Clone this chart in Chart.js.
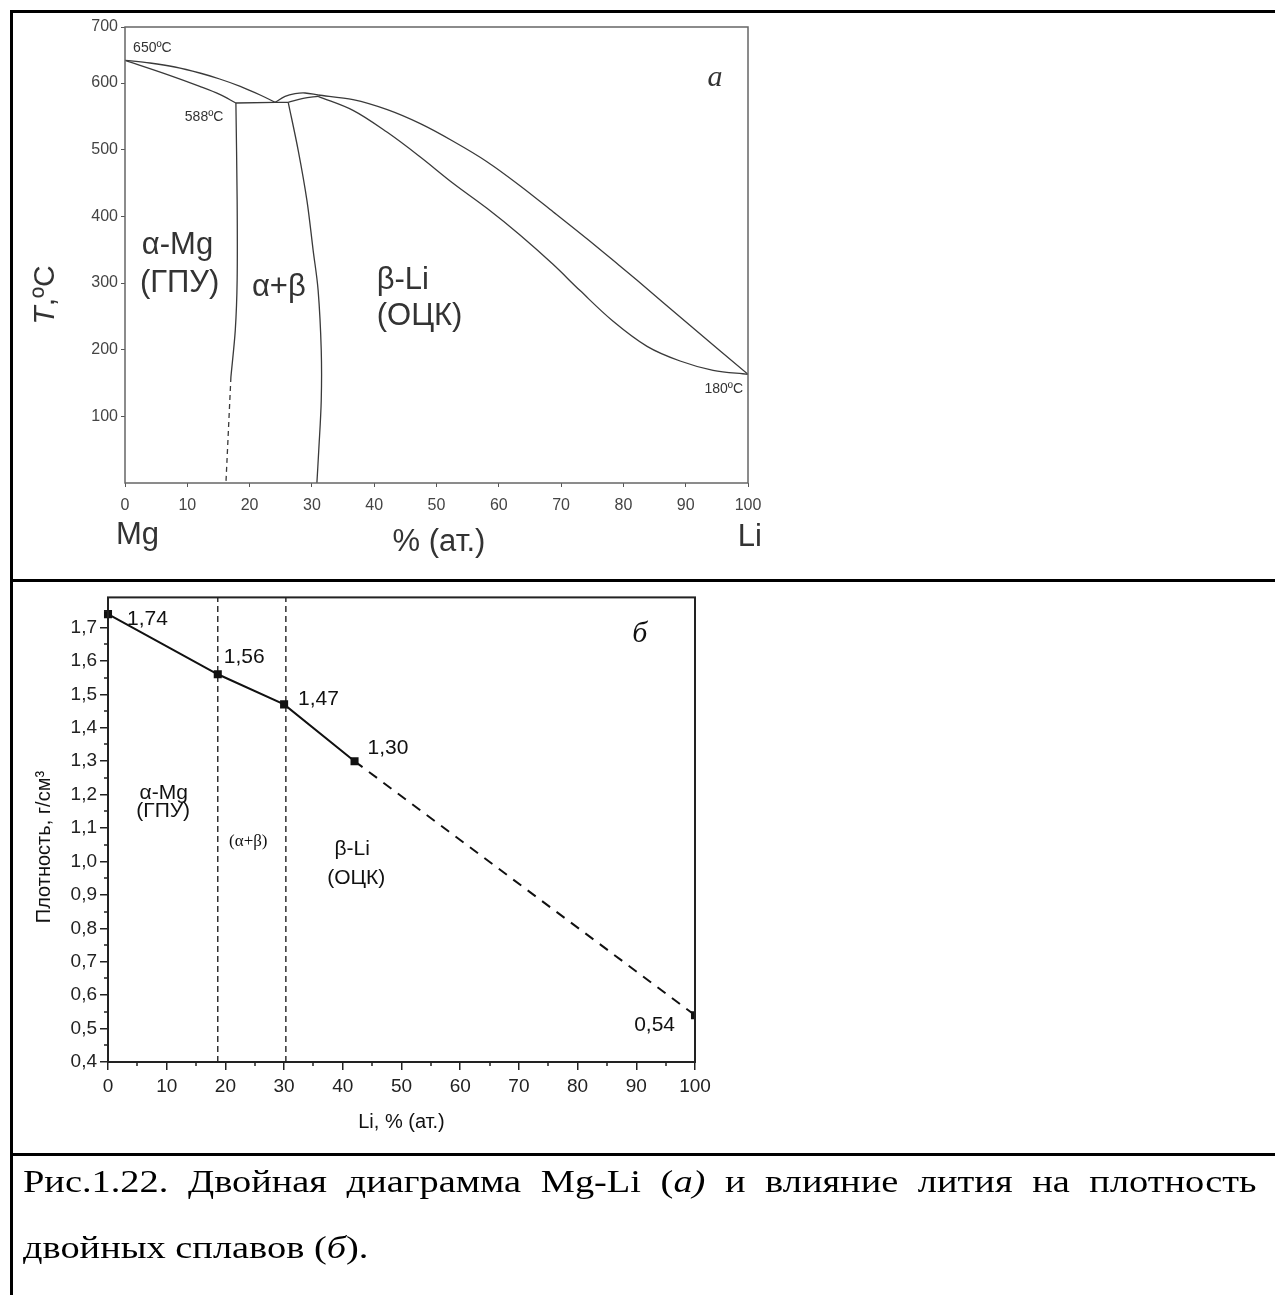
<!DOCTYPE html>
<html>
<head>
<meta charset="utf-8">
<script src="https://cdn.jsdelivr.net/npm/chart.js@4.4.1/dist/chart.umd.min.js"></script>
<style>
  body { margin: 0; background: #fff; width: 1275px; height: 1295px; position: relative; overflow: hidden; }
  .rule { position: absolute; background: #000; }
  #boxA { position: absolute; left: 12px; top: 14px; }
  #boxB { position: absolute; left: 12px; top: 583px; }
  .caption { position: absolute; left: 23px; top: 1148px; width: 1028px; color: #000;
    font: 32px "Liberation Serif", "Times New Roman", serif; line-height: 66px;
    transform: scaleX(1.2); transform-origin: 0 0; }
  .caption .l1 { text-align: justify; text-align-last: justify; }
</style>
</head>
<body>
<div class="rule" style="left:10px;top:10px;width:1265px;height:3px"></div>
<div class="rule" style="left:10px;top:10px;width:3px;height:1285px"></div>
<div class="rule" style="left:10px;top:579px;width:1265px;height:3px"></div>
<div class="rule" style="left:10px;top:1153px;width:1265px;height:3px"></div>

<div id="boxA"><canvas id="chartA" width="800" height="562"></canvas></div>
<div id="boxB"><canvas id="chartB" width="800" height="568"></canvas></div>

<div class="caption">
  <div class="l1">Рис.1.22. Двойная диаграмма Mg-Li (<i>а)</i> и влияние лития на плотность</div>
  <div>двойных сплавов (<i>б</i>).</div>
</div>

<script>
// (a) Mg-Li phase diagram, x = at.% Li, T in the drawn axis units
const liTicksA = [0, 10, 20, 30, 40, 50, 60, 70, 80, 90, 100];
const tempTicks = [100, 200, 300, 400, 500, 600, 684];
const tempTickLabels = ["100", "200", "300", "400", "500", "600", "700"];

const liqMgX = [0, 4.0, 8.0, 12.0, 15.2, 18.5, 21.7, 24.1];
const liqMgT = [634, 630, 624, 615, 606, 595, 582, 571];
const solMgX = [0, 6.7, 12.0, 15.2, 17.8];
const solMgT = [634, 613, 595, 583, 570];
const eutX = [17.8, 24.1, 26.2];
const eutT = [570, 571, 571];
const solvAX = [17.8, 18.0, 18.0, 17.7, 17.0];
const solvAT = [570, 424, 304, 229, 159];
const solvADashX = [17.0, 16.2];
const solvADashT = [159, 0];
const solvBX = [26.2, 27.8, 29.2, 30.2, 31.0, 31.5, 31.5, 31.1, 30.8];
const solvBT = [571, 499, 424, 349, 289, 199, 124, 49, 0];
const lensUpX = [24.1, 25.7, 27.3, 28.9, 31.0];
const lensUpT = [571, 580, 584, 585, 582];
const lensLowX = [26.2, 28.6, 31.0];
const lensLowT = [571, 577, 580];
const liqLiX = [31.0, 36.6, 42.1, 47.4, 52.6, 58.1, 63.4, 68.7, 74.2, 79.5, 82.2, 91.0, 100];
const liqLiT = [582, 575, 560, 539, 513, 482, 446, 407, 366, 325, 304, 234, 163];
const solLiX = [31.0, 36.6, 42.1, 47.4, 52.6, 58.1, 63.4, 68.7, 73.0, 78.3, 83.8, 89.1, 94.4, 100];
const solLiT = [580, 559, 526, 489, 450, 412, 372, 328, 289, 243, 205, 183, 169, 163];

// (б) density vs Li content
const liTicksB = [0, 10, 20, 30, 40, 50, 60, 70, 80, 90, 100];
const liMinorB = [5, 15, 25, 35, 45, 55, 65, 75, 85, 95];
const densityTicks = [0.4, 0.5, 0.6, 0.7, 0.8, 0.9, 1.0, 1.1, 1.2, 1.3, 1.4, 1.5, 1.6, 1.7];
const densityMinor = [0.45, 0.55, 0.65, 0.75, 0.85, 0.95, 1.05, 1.15, 1.25, 1.35, 1.45, 1.55, 1.65, 1.75];
const densityMin = 0.4;
const densityMax = 1.79;
const liAt = [0, 18.7, 30, 42, 100];
const density = [1.74, 1.56, 1.47, 1.30, 0.54];
const phaseBounds = [18.7, 30.3];

const SANS = '"Liberation Sans", Arial, sans-serif';
const SERIF = '"Liberation Serif", "Times New Roman", serif';

function pts(xs, ys) {
  return xs.map((x, i) => ({ x: x, y: ys[i] }));
}

function curve(xs, ts, tension, dash) {
  return {
    data: pts(xs, ts),
    borderColor: "#3a3a3a",
    borderWidth: 1.3,
    pointRadius: 0,
    tension: tension,
    borderDash: dash || [],
  };
}

function drawRuns(ctx, runs, x, y, size, align, rotate, color) {
  ctx.save();
  ctx.translate(x, y);
  if (rotate) ctx.rotate(rotate);
  ctx.fillStyle = color;
  ctx.textBaseline = "middle";
  ctx.textAlign = "left";
  const fonts = runs.map(r => (r.italic ? "italic " : "") + size + "px " + (r.serif ? SERIF : SANS));
  let total = 0;
  const widths = runs.map((r, i) => {
    ctx.font = fonts[i];
    const w = ctx.measureText(r.text).width;
    total += w;
    return w;
  });
  let cx = align === "left" ? 0 : align === "right" ? -total : -total / 2;
  runs.forEach((r, i) => {
    ctx.font = fonts[i];
    ctx.fillText(r.text, cx, 0);
    cx += widths[i];
  });
  ctx.restore();
}

// text placed in data units, or relative to the plot area edges
function notesPlugin(items, color) {
  return {
    id: "notes",
    afterDraw(chart) {
      const { ctx, chartArea, scales } = chart;
      items.forEach(n => {
        const px = n.leftOf !== undefined ? chartArea.left - n.leftOf : scales.x.getPixelForValue(n.x);
        const py = n.below !== undefined ? chartArea.bottom + n.below : scales.y.getPixelForValue(n.y);
        const runs = n.runs || [{ text: n.text, italic: n.italic, serif: n.serif }];
        drawRuns(ctx, runs, px, py, n.size, n.align || "center", n.rotate ? -Math.PI / 2 : 0, color);
      });
    },
  };
}

function framePlugin(color, width) {
  return {
    id: "frame",
    afterDatasetsDraw(chart) {
      const { ctx, chartArea: a } = chart;
      ctx.save();
      ctx.strokeStyle = color;
      ctx.lineWidth = width;
      ctx.strokeRect(a.left, a.top, a.right - a.left, a.bottom - a.top);
      ctx.restore();
    },
  };
}

const minorTicksPlugin = {
  id: "minorTicks",
  afterDraw(chart) {
    const { ctx, chartArea: a, scales } = chart;
    ctx.save();
    ctx.strokeStyle = "#222";
    ctx.lineWidth = 1.5;
    ctx.beginPath();
    liMinorB.forEach(v => {
      const px = Math.round(scales.x.getPixelForValue(v));
      ctx.moveTo(px, a.bottom);
      ctx.lineTo(px, a.bottom + 4);
    });
    densityMinor.forEach(v => {
      const py = Math.round(scales.y.getPixelForValue(v));
      ctx.moveTo(a.left, py);
      ctx.lineTo(a.left - 4, py);
    });
    ctx.stroke();
    ctx.restore();
  },
};

// value labels next to the density points
const valueLabelOffsets = [[19, 5, "left"], [6, -17, "left"], [14, -5, "left"], [13, -13, "left"], [-20, 10, "right"]];
const valueLabelsPlugin = {
  id: "valueLabels",
  afterDraw(chart) {
    const { ctx } = chart;
    const meta = chart.getDatasetMeta(0);
    meta.data.forEach((p, i) => {
      const o = valueLabelOffsets[i];
      const txt = density[i].toFixed(2).replace(".", ",");
      drawRuns(ctx, [{ text: txt }], p.x + o[0], p.y + o[1], 21, o[2], 0, "#111");
    });
  },
};

// ---------- chart (a) ----------
const notesA = [
  { text: "650ºC", x: 1.3, y: 652, size: 14, align: "left" },
  { text: "588ºC", x: 9.6, y: 549, size: 14, align: "left" },
  { text: "180ºC", x: 99.2, y: 141, size: 14, align: "right" },
  { text: "α-Mg", x: 2.7, y: 357, size: 31, align: "left" },
  { text: "(ГПУ)", x: 2.4, y: 300, size: 31, align: "left" },
  { text: "α+β", x: 24.7, y: 294, size: 31 },
  { text: "β-Li", x: 40.4, y: 304, size: 31, align: "left" },
  { text: "(ОЦК)", x: 40.4, y: 250, size: 31, align: "left" },
  { text: "а", x: 94.7, y: 607, size: 30, serif: true, italic: true },
  { text: "Mg", x: 2, below: 52, size: 31 },
  { text: "Li", x: 100.3, below: 54, size: 31 },
  { text: "% (ат.)", x: 50.4, below: 59, size: 31 },
  { runs: [{ text: "T", italic: true }, { text: ",ºC" }], leftOf: 79, y: 282, size: 30, rotate: true },
];

new Chart(document.getElementById("chartA"), {
  type: "line",
  data: {
    datasets: [
      curve(liqMgX, liqMgT, 0.35),
      curve(solMgX, solMgT, 0.35),
      curve(eutX, eutT, 0),
      curve(solvAX, solvAT, 0.3),
      curve(solvADashX, solvADashT, 0, [5, 4]),
      curve(solvBX, solvBT, 0.35),
      curve(lensUpX, lensUpT, 0.35),
      curve(lensLowX, lensLowT, 0.35),
      curve(liqLiX, liqLiT, 0.3),
      curve(solLiX, solLiT, 0.35),
    ],
  },
  options: {
    responsive: false,
    animation: false,
    layout: { padding: { top: 13, right: 64, left: 0, bottom: 0 } },
    plugins: { legend: { display: false }, tooltip: { enabled: false } },
    scales: {
      x: {
        type: "linear", min: 0, max: 100,
        afterBuildTicks: s => { s.ticks = liTicksA.map(v => ({ value: v })); },
        afterFit: s => { s.height = 93; },
        grid: { drawOnChartArea: false, tickLength: 4, color: "#555" },
        border: { display: false },
        ticks: { color: "#444", font: { family: SANS, size: 16 }, padding: 9, maxRotation: 0, autoSkip: false },
      },
      y: {
        type: "linear", min: 0, max: 684,
        afterBuildTicks: s => { s.ticks = tempTicks.map(v => ({ value: v })); },
        afterFit: s => { s.width = 113; },
        grid: { drawOnChartArea: false, tickLength: 4, color: "#555" },
        border: { display: false },
        ticks: { color: "#444", font: { family: SANS, size: 16 }, padding: 3, autoSkip: false,
          callback: (v, i) => tempTickLabels[i] },
      },
    },
  },
  plugins: [framePlugin("#666", 1.5), notesPlugin(notesA, "#333")],
});

// ---------- chart (б) ----------
const notesB = [
  { text: "α-Mg", x: 9.5, y: 1.204, size: 21 },
  { text: "(ГПУ)", x: 9.4, y: 1.149, size: 21 },
  { text: "(α+β)", x: 23.9, y: 1.06, size: 17, serif: true },
  { text: "β-Li", x: 41.6, y: 1.037, size: 21 },
  { text: "(ОЦК)", x: 42.3, y: 0.95, size: 21 },
  { text: "б", x: 90.6, y: 1.68, size: 30, serif: true, italic: true },
  { text: "Li, % (ат.)", x: 50, below: 60, size: 20 },
  { text: "Плотность, г/см³", leftOf: 64, y: 1.043, size: 20, rotate: true },
];

new Chart(document.getElementById("chartB"), {
  type: "line",
  data: {
    datasets: [
      {
        data: pts(liAt, density),
        borderColor: "#111",
        borderWidth: 2,
        pointStyle: "rect",
        pointRadius: 5.7,
        pointBackgroundColor: "#111",
        pointBorderWidth: 0,
        tension: 0,
        segment: { borderDash: c => (c.p0DataIndex >= 3 ? [10, 8] : undefined) },
        clip: { left: 10, top: 10, right: 0, bottom: 10 },
      },
      ...phaseBounds.map(b => ({
        data: [{ x: b, y: densityMin }, { x: b, y: densityMax }],
        borderColor: "#222",
        borderWidth: 1.4,
        borderDash: [6, 4],
        pointRadius: 0,
      })),
    ],
  },
  options: {
    responsive: false,
    animation: false,
    layout: { padding: { top: 5, right: 117, left: 0, bottom: 0 } },
    plugins: { legend: { display: false }, tooltip: { enabled: false } },
    scales: {
      x: {
        type: "linear", min: 0, max: 100,
        afterBuildTicks: s => { s.ticks = liTicksB.map(v => ({ value: v })); },
        afterFit: s => { s.height = 89; },
        grid: { drawOnChartArea: false, tickLength: 8, color: "#222", lineWidth: 1.5 },
        border: { display: false },
        ticks: { color: "#222", font: { family: SANS, size: 19 }, padding: 5, maxRotation: 0, autoSkip: false },
      },
      y: {
        type: "linear", min: densityMin, max: densityMax,
        afterBuildTicks: s => { s.ticks = densityTicks.map(v => ({ value: v })); },
        afterFit: s => { s.width = 96; },
        grid: { drawOnChartArea: false, tickLength: 8, color: "#222", lineWidth: 1.5 },
        border: { display: false },
        ticks: { color: "#222", font: { family: SANS, size: 19 }, padding: 3, autoSkip: false,
          callback: v => v.toFixed(1).replace(".", ",") },
      },
    },
  },
  plugins: [framePlugin("#222", 2), minorTicksPlugin, valueLabelsPlugin, notesPlugin(notesB, "#111")],
});
</script>
</body>
</html>
